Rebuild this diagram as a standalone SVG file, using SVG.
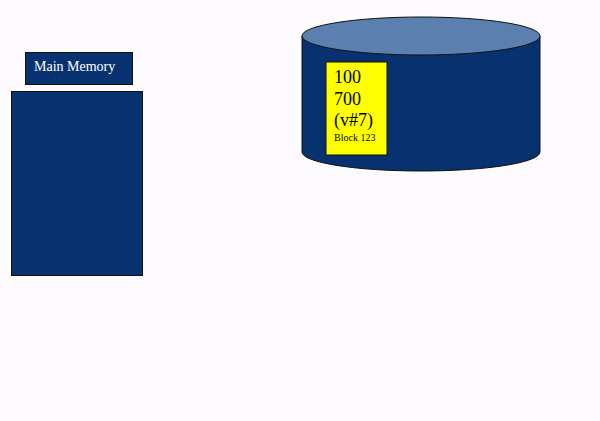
<svg xmlns="http://www.w3.org/2000/svg" width="600" height="421" viewBox="0 0 600 421">
<style>
.blue{fill:#07326f;stroke:#111;stroke-width:1}
.t{font-family:"Liberation Serif",serif;fill:#000}
</style>
<rect width="600" height="421" fill="#fdfbfd"/>
<g id="main-memory-label">
<rect class="blue" x="25.5" y="52.5" width="107" height="32"/>
<text x="34" y="71" font-size="14" font-family="Liberation Serif, serif" fill="#fff">Main Memory</text>
</g>
<g id="main-memory">
<rect class="blue" x="11.5" y="91.5" width="131" height="184"/>
</g>
<g id="disk">
<path class="blue" d="M302,36 V152 A119,19 0 0 0 540,152 V36 Z"/>
<ellipse cx="421" cy="36" rx="119" ry="19" fill="#5b80b0" stroke="#111" stroke-width="1"/>
</g>
<g id="block-123">
<rect x="326" y="62" width="61" height="93" fill="#ffff00" stroke="#111" stroke-width="1"/>
<text class="t" x="334" y="83" font-size="18">100</text>
<text class="t" x="334" y="105" font-size="18">700</text>
<text class="t" x="334" y="126" font-size="18">(v#7)</text>
<text class="t" x="334" y="141" font-size="10">Block 123</text>
</g>
<g id="connectors"/>
</svg>
